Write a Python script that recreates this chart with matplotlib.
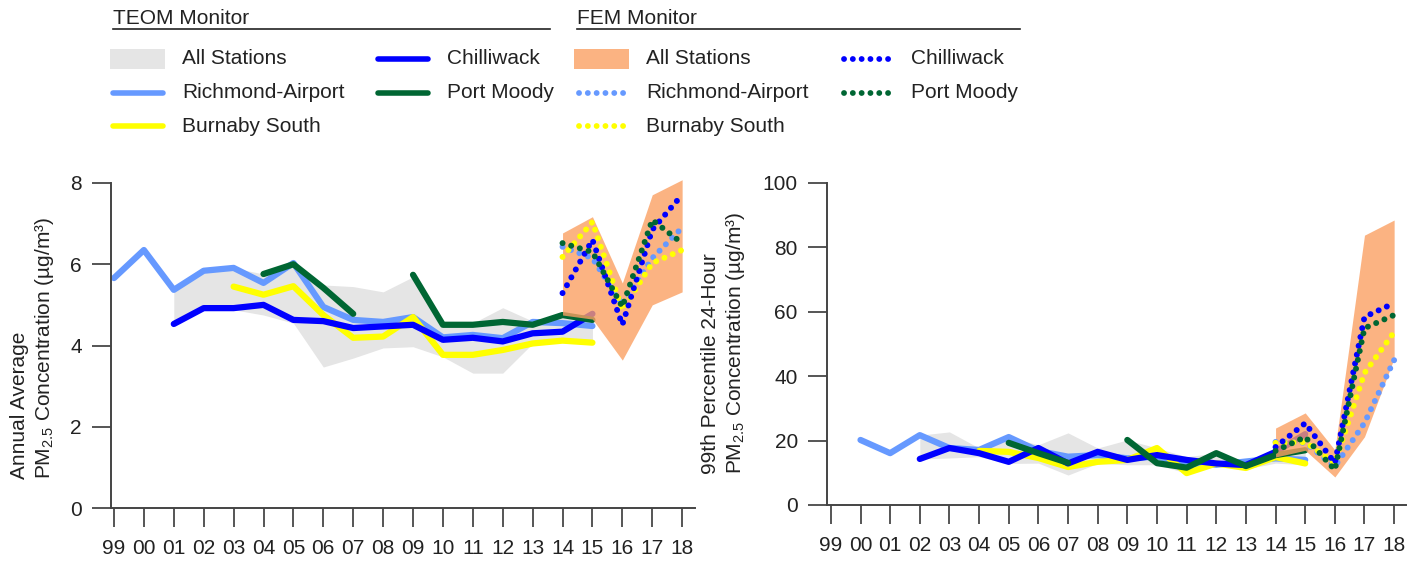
import numpy as np
import matplotlib
matplotlib.use("Agg")
import matplotlib.pyplot as plt
from matplotlib.lines import Line2D
from matplotlib.patches import Rectangle

plt.rcParams["font.family"] = ["Liberation Sans", "DejaVu Sans"]
plt.rcParams["mathtext.default"] = "regular"

nan = np.nan
years = ["99", "00", "01", "02", "03", "04", "05", "06", "07", "08",
         "09", "10", "11", "12", "13", "14", "15", "16", "17", "18"]
teom_years = years[:17]   # 1999-2015
fem_years = years[15:]    # 2014-2018

# annual average PM2.5 (ug/m3)
ann_richmond = [5.66, 6.35, 5.37, 5.84, 5.91, 5.54, 6.03, 4.95, 4.63, 4.58, 4.70, 4.20, 4.26, 4.18, 4.58, 4.55, 4.48]
ann_chilliwack = [nan, nan, 4.53, 4.92, 4.92, 5.00, 4.63, 4.60, 4.43, 4.47, 4.51, 4.14, 4.19, 4.10, 4.30, 4.34, 4.78]
ann_burnaby = [nan, nan, nan, nan, 5.45, 5.25, 5.46, 4.75, 4.19, 4.22, 4.70, 3.77, 3.77, 3.89, 4.05, 4.12, 4.07]
ann_portmoody = [nan, nan, nan, nan, nan, 5.76, 6.00, 5.42, 4.78, nan, 5.74, 4.51, 4.51, 4.58, 4.51, 4.75, 4.63]
ann_teom_hi = [nan, nan, 5.37, 5.84, 5.91, 5.76, 6.03, 5.49, 5.45, 5.32, 5.69, 4.55, 4.55, 4.93, 4.60, 4.75, 4.75]
ann_teom_lo = [nan, nan, 4.53, 4.88, 4.88, 4.75, 4.55, 3.47, 3.69, 3.94, 3.97, 3.72, 3.32, 3.32, 4.05, 4.10, 4.05]
ann_fem_hi = [6.77, 7.17, 5.54, 7.71, 8.08]
ann_fem_lo = [4.75, 4.65, 3.64, 5.00, 5.32]
ann_fem_chilliwack = [5.29, 6.60, 4.51, 6.85, 7.71]
ann_fem_richmond = [6.43, 6.15, 5.00, 6.15, 6.90]
ann_fem_burnaby = [6.18, 7.04, 4.88, 6.03, 6.35]
ann_fem_portmoody = [6.52, 6.30, 4.95, 7.09, 6.52]

# 99th percentile 24-hour PM2.5 (ug/m3)
p99_richmond = [nan, 20.2, 16.1, 21.7, 17.7, 17.1, 21.1, 16.8, 15.0, 15.5, 14.5, 15.0, 13.0, 12.5, 13.5, 14.5, 14.0]
p99_chilliwack = [nan, nan, nan, 14.3, 17.7, 16.1, 13.4, 17.7, 12.9, 16.5, 14.0, 15.5, 14.0, 12.9, 12.4, 16.5, 22.0]
p99_burnaby = [nan, nan, nan, nan, nan, 16.8, 16.5, 14.6, 11.8, 13.4, 14.0, 17.7, 9.9, 12.9, 11.5, 14.9, 12.9]
p99_portmoody = [nan, nan, nan, nan, nan, nan, 19.3, 16.1, 13.1, nan, 20.2, 13.0, 11.6, 16.1, 12.1, 15.5, 17.0]
p99_teom_hi = [nan, nan, nan, 21.7, 22.7, 17.7, 21.1, 18.7, 22.4, 17.7, 20.2, 17.7, 15.0, 16.1, 13.5, 16.5, 17.0]
p99_teom_lo = [nan, nan, nan, 14.3, 14.6, 15.0, 12.9, 13.0, 9.3, 12.9, 12.5, 12.5, 9.9, 12.0, 11.2, 13.0, 12.5]
p99_fem_hi = [23.9, 28.6, 17.1, 83.8, 88.5]
p99_fem_lo = [14.9, 17.0, 8.7, 21.2, 45.6]
p99_fem_chilliwack = [18.0, 25.4, 13.0, 58.4, 62.7]
p99_fem_richmond = [19.6, 19.3, 12.0, 25.5, 45.0]
p99_fem_burnaby = [19.3, 19.5, 13.0, 41.0, 53.7]
p99_fem_portmoody = [16.8, 21.1, 10.9, 54.9, 59.0]

station_names = ["Richmond-Airport", "Burnaby South", "Chilliwack", "Port Moody"]
station_colors = ["#6699FF", "#FFFF00", "#0000FF", "#006633"]
teom_band_color = "#E5E5E5"
fem_band_color = "#FBA063"

W, H = 1426, 563
fig = plt.figure(figsize=(W / 100, H / 100), dpi=100)

def fx(px):
    return px / W

def fy(py):
    return 1 - py / H

dot_style = (0, (0.01, 1.5))

def draw_panel(ax, teom, teom_hi, teom_lo, fem, fem_hi, fem_lo, yticks, xlim):
    xt = np.arange(len(teom_years))
    xf = np.arange(15, 15 + len(fem_years))
    ax.fill_between(xt, teom_lo, teom_hi, color=teom_band_color, lw=0, zorder=1)
    for vals, c in zip(teom, station_colors):
        ax.plot(xt, vals, color=c, lw=4.5, solid_capstyle="round", zorder=2)
    ax.fill_between(xf, fem_lo, fem_hi, color=fem_band_color, alpha=0.8, lw=0,
                    zorder=3, clip_on=False)
    for vals, c in zip(fem, station_colors):
        ax.plot(xf, vals, color=c, lw=4.3, linestyle=dot_style,
                dash_capstyle="round", zorder=4)
    ax.set_xticks(np.arange(len(years)))
    ax.set_xticklabels(years)
    ax.set_yticks(yticks)
    ax.set_ylim(yticks[0], yticks[-1])
    ax.set_xlim(*xlim)
    for s in ["top", "right"]:
        ax.spines[s].set_visible(False)
    for s in ["left", "bottom"]:
        ax.spines[s].set_color("#444444")
        ax.spines[s].set_linewidth(1.4)
    ax.tick_params(axis="both", direction="out", length=14, width=1.4,
                   color="#555555", labelsize=15, labelcolor="#222222")
    ax.tick_params(axis="x", pad=8)
    ax.tick_params(axis="y", pad=7)

ax1 = fig.add_axes([fx(111), fy(508), fx(695) - fx(111), fy(183) - fy(508)])
draw_panel(ax1,
           [ann_richmond, ann_burnaby, ann_chilliwack, ann_portmoody],
           ann_teom_hi, ann_teom_lo,
           [ann_fem_richmond, ann_fem_burnaby, ann_fem_chilliwack, ann_fem_portmoody],
           ann_fem_hi, ann_fem_lo,
           [0, 2, 4, 6, 8], (-0.1, 19.43))

ax2 = fig.add_axes([fx(827), fy(505), fx(1406) - fx(827), fy(183) - fy(505)])
draw_panel(ax2,
           [p99_richmond, p99_burnaby, p99_chilliwack, p99_portmoody],
           p99_teom_hi, p99_teom_lo,
           [p99_fem_richmond, p99_fem_burnaby, p99_fem_chilliwack, p99_fem_portmoody],
           p99_fem_hi, p99_fem_lo,
           [0, 20, 40, 60, 80, 100], (-0.13, 19.4))

# y labels
fig.text(fx(33), fy(479), "Annual Average\nPM$_{2.5}$ Concentration (µg/m³)",
         rotation=90, rotation_mode="anchor", ha="left", va="center",
         multialignment="left", fontsize=15, color="#222222")
fig.text(fx(724), fy(474), "99th Percentile 24-Hour\nPM$_{2.5}$ Concentration (µg/m³)",
         rotation=90, rotation_mode="anchor", ha="left", va="center",
         multialignment="left", fontsize=15, color="#222222")

# legend (two groups)
row_y = [59, 93, 126]

def legend_group(title, x0, x_end, band_color, band_alpha, dotted):
    fig.text(fx(x0), fy(18), title, fontsize=15, va="center", color="#222222")
    fig.add_artist(Line2D([fx(x0), fx(x_end)], [fy(29), fy(29)],
                          color="#222222", lw=1.2, transform=fig.transFigure))
    # column 1: band, richmond, burnaby; column 2: chilliwack, port moody
    entries = [("All Stations", None)] + list(zip(station_names, station_colors))
    slots = [(0, 0), (0, 1), (0, 2), (1, 0), (1, 1)]
    for (label, c), (col, row) in zip(entries, slots):
        hx = x0 + col * 265
        y = row_y[row]
        if c is None:
            fig.add_artist(Rectangle((fx(hx - 3), fy(y + 10)), fx(55), fy(y - 10) - fy(y + 10),
                                     color=band_color, alpha=band_alpha, lw=0,
                                     transform=fig.transFigure))
        elif dotted:
            fig.add_artist(Line2D([fx(hx + 2), fx(hx + 52)], [fy(y), fy(y)], color=c, lw=4.2,
                                  linestyle=(0, (0.01, 1.5)), dash_capstyle="round",
                                  transform=fig.transFigure))
        else:
            fig.add_artist(Line2D([fx(hx), fx(hx + 50)], [fy(y), fy(y)], color=c, lw=4,
                                  solid_capstyle="round", transform=fig.transFigure))
        fig.text(fx(hx + 69), fy(y), label, fontsize=15, va="center", color="#222222")

legend_group("TEOM Monitor", 113, 550, teom_band_color, 1.0, False)
legend_group("FEM Monitor", 577, 1020, fem_band_color, 0.8, True)

fig.savefig("out.png", dpi=100)
